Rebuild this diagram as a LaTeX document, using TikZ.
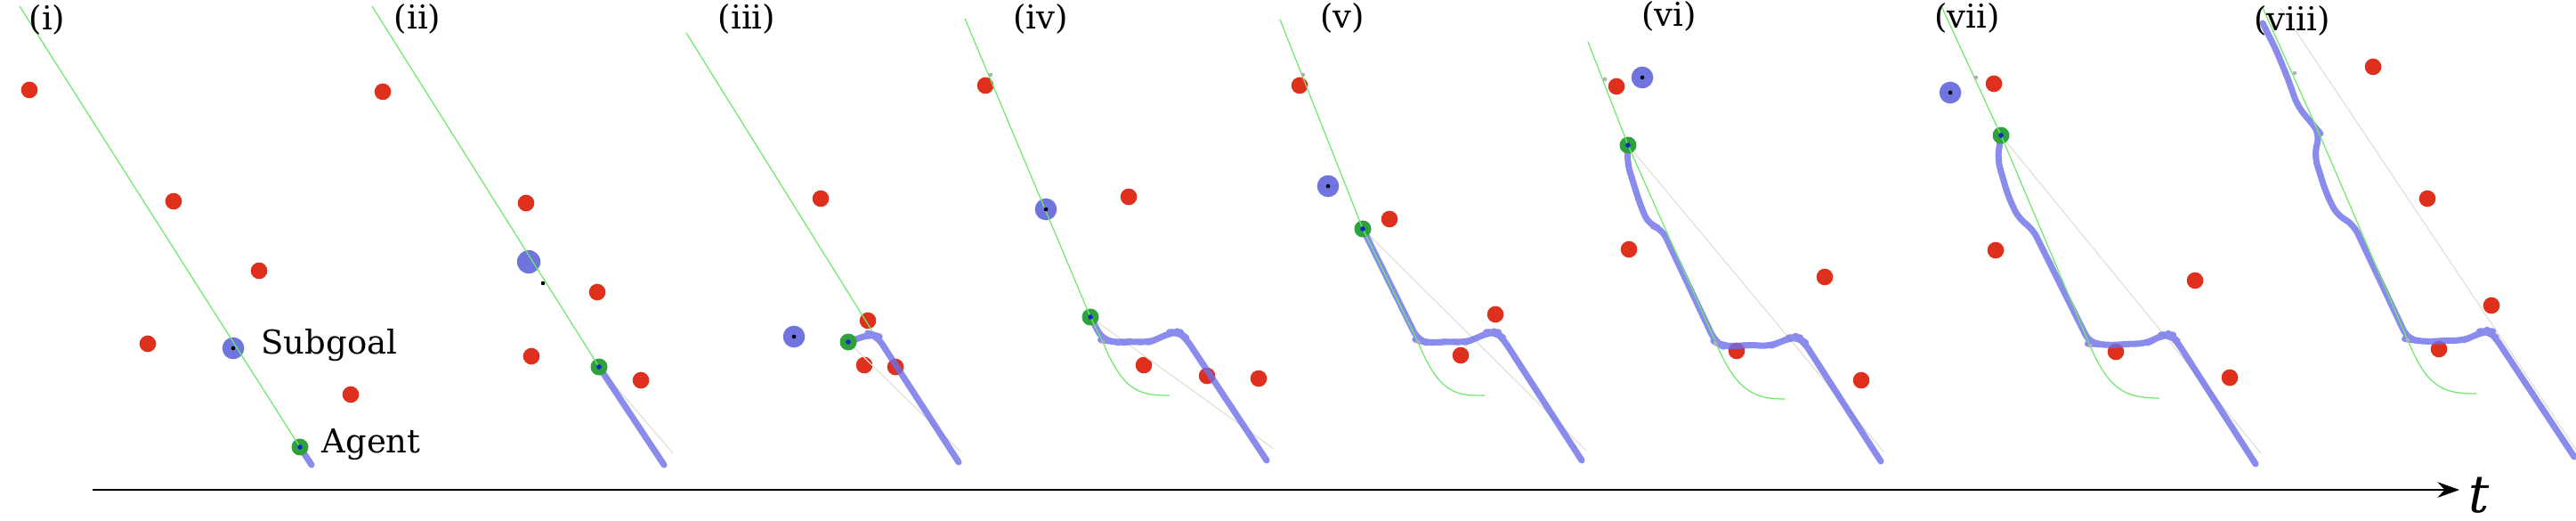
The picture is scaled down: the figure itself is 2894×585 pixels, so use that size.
\documentclass[tikz,border=0pt]{standalone}
\usepackage{fontspec}
\setmainfont{DejaVu Serif}
\usetikzlibrary{arrows.meta}
\definecolor{obstred}{RGB}{222,48,28}
\definecolor{subblue}{RGB}{112,116,222}
\definecolor{pathblue}{RGB}{108,110,232}
\definecolor{trajgreen}{RGB}{110,232,110}
\definecolor{agentgreen}{RGB}{46,160,60}
\definecolor{agentcore}{RGB}{20,40,200}
\definecolor{faint}{RGB}{226,226,212}
\tikzset{
 obst/.style={circle,fill=obstred,inner sep=0pt,minimum size=5.3pt},
 subgoal/.style={circle,fill=subblue,inner sep=0pt,minimum size=7pt},
 agent/.style={circle,fill=agentgreen,inner sep=0pt,minimum size=5.4pt},
 core/.style={circle,fill=black,inner sep=0pt,minimum size=1.3pt},
 acore/.style={circle,fill=agentcore,inner sep=0pt,minimum size=1.6pt},
 waypt/.style={circle,fill=gray!60,inner sep=0pt,minimum size=1.3pt},
 traj/.style={draw=trajgreen,line width=0.35pt},
 plan/.style={draw=pathblue,line width=2pt,line cap=round,line join=round,rounded corners=3pt,opacity=0.8},
 faintline/.style={draw=faint,line width=0.35pt},
 panel/.style={font=\fontsize{10.5}{12}\selectfont,inner sep=0pt},
 caption/.style={font=\fontsize{10.5}{12}\selectfont,inner sep=0pt,anchor=west},
}
\begin{document}
\begin{tikzpicture}[x=0.01cm,y=-0.01cm]
\useasboundingbox (0,0) rectangle (2894,585);
% obstacles
\foreach \n/\x/\y in {11/33/101,12/195/226,13/291/304,14/166/386,15/394/443,
 21/430/103,22/591/228,23/671/328,24/597/400,25/720/427,
 31/922/223,32/975/360,33/971/410,34/1006/412,
 41/1107/96,42/1268/221,43/1285/410,44/1356/422,45/1414/425,
 51/1460/96,52/1561/246,53/1680/353,54/1641/399,
 61/1816/97,62/1830/280,63/2050/311,64/1951/394,65/2091/427,
 71/2240/94,72/2242/281,73/2466/315,74/2377/395,75/2505/424,
 81/2666/75,82/2727/223,83/2799/343,84/2740/392}
 \node[obst] (o\n) at (\x,\y) {};
% agents (positions)
\coordinate (a1) at (337,502);
\coordinate (a2) at (673,412);
\coordinate (a3) at (953,384);
\coordinate (a4) at (1225,356);
\coordinate (a5) at (1531,257);
\coordinate (a6) at (1829,163);
\coordinate (a7) at (2248,152);
% faint guide lines
\path[faintline] (a2) -- (756,509);
\path[faintline] (a3) -- (1079,507);
\path[faintline] (a4) -- (1431,504);
\path[faintline] (a5) -- (1782,506);
\path[faintline] (a6) -- (2116,507);
\path[faintline] (a7) -- (2540,509);
\path[faintline] (2562,9) -- (2894,505);
% planned paths
\path[plan] (a1) -- (350,522);
\path[plan] (a2) -- (746,522);
\path[plan] (a3) -- (978,375) -- (985,377) -- (1077,519);
\path[plan] (a4) -- (1239,382) -- (1247,383) -- (1260,385) -- (1272,383) -- (1288,385) -- (1300,381) -- (1316,373) -- (1324,373) -- (1331,378) -- (1423,517);
\path[plan] (a5) -- (1593,382) -- (1600,384) -- (1614,385) -- (1628,383) -- (1644,385) -- (1656,381) -- (1673,373) -- (1680,373) -- (1687,378) -- (1777,517);
\path[plan] (a6) -- (1828,183) -- (1842,228) -- (1852,252) -- (1867,257) -- (1927,384) -- (1934,388) -- (1950,389) -- (1965,387) -- (1988,389) -- (2000,384) -- (2012,379) -- (2020,379) -- (2026,383) -- (2113,518);
\path[plan] (a7) -- (2244,179) -- (2256,220) -- (2268,246) -- (2283,256) -- (2348,386) -- (2356,386) -- (2372,388) -- (2390,386) -- (2411,386) -- (2422,380) -- (2431,376) -- (2438,376) -- (2444,381) -- (2534,521);
\path[plan] (2542,26) -- (2557,56) -- (2571,90) -- (2581,119) -- (2600,142) -- (2606,149) -- (2600,175) -- (2613,216) -- (2625,241) -- (2644,252) -- (2705,381) -- (2712,382) -- (2730,384) -- (2748,382) -- (2765,383) -- (2778,378) -- (2790,372) -- (2796,372) -- (2802,377) -- (2892,513);
% subgoals
\node[subgoal] (s1) at (262,391) {};
\node[subgoal,minimum size=7.5pt] (s2) at (594,294) {};
\node[subgoal] (s3) at (892,378) {};
\node[subgoal] (s4) at (1175,235) {};
\node[subgoal] (s5) at (1492,209) {};
\node[subgoal] (s6) at (1845,87) {};
\node[subgoal] (s7) at (2191,104) {};
% agents
\foreach \i in {1,...,7} \node[agent] (ag\i) at (a\i) {};
% green reference trajectories
\path[traj] (22,7) -- (ag1.center);
\path[traj] (418,7) -- (ag2.center);
\path[traj] (771,37) -- (980,372);
\path[traj] (1084,21) -- (ag4.center) -- (1239,384) .. controls (1262,440) and (1280,444) .. (1314,444);
\path[traj] (1438,22) -- (ag5.center) -- (1593,384) .. controls (1616,440) and (1634,445) .. (1668,444);
\path[traj] (1784,47) -- (ag6.center) -- (1930,390) .. controls (1952,440) and (1972,448) .. (2005,448);
\path[traj] (2181,7) -- (ag7.center) -- (2348,388) .. controls (2370,440) and (2390,447) .. (2426,447);
\path[traj] (2542,9) -- (2605,149) -- (2705,382) .. controls (2727,436) and (2745,442) .. (2782,442);
% small markers
\foreach \n/\x/\y in {1/1113/84,2/1239/384,3/1464/84,4/1593/384,5/1803/89,6/1927/386,7/2220/87,8/2348/388,9/2578/82,10/2705/382}
 \node[waypt] (w\n) at (\x,\y) {};
\foreach \i in {1,3,4,5,6,7} \node[core] (c\i) at (s\i.center) {};
\node[core] (c2) at (610,318) {};
\foreach \i in {1,...,7} \node[acore] (ac\i) at (ag\i.center) {};
% labels
\node[panel] (l1) at (53,22) {(i)};
\node[panel] (l2) at (469,21) {(ii)};
\node[panel] (l3) at (839,21) {(iii)};
\node[panel] (l4) at (1169,21) {(iv)};
\node[panel] (l5) at (1508,20) {(v)};
\node[panel] (l6) at (1875,18) {(vi)};
\node[panel] (l7) at (2210,20) {(vii)};
\node[panel] (l8) at (2575,23) {(viii)};
\node[caption] (subgoaltxt) at (293,388) {Subgoal};
\node[caption] (agenttxt) at (361,499) {Agent};
% time axis
\coordinate (tstart) at (104,550);
\coordinate (tend) at (2763,550);
\draw[line width=0.5pt,-{Stealth[length=7pt,width=5pt]}] (tstart) -- (tend);
\node[inner sep=0pt,font=\fontsize{16.5}{19}\selectfont\itshape] (tlabel) at (2785,556) {t};
\end{tikzpicture}
\end{document}
